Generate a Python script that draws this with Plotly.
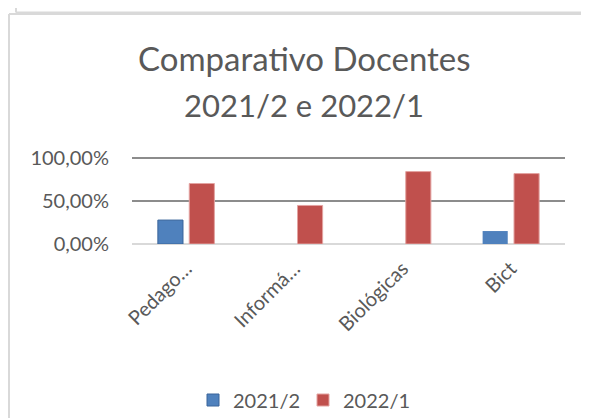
import plotly.graph_objects as go

categories = ["Pedago…", "Informá…", "Biológicas", "Bict"]
series_names = ["2021/2", "2022/1"]
values_2021_2 = [0.277, 0.0, 0.0, 0.15]
values_2022_1 = [0.70, 0.446, 0.838, 0.815]
title_lines = ["Comparativo Docentes", "2021/2 e 2022/1"]

# the page body adds an 8px offset; positions below are in page pixels
OFF = 8
W, H = 589, 418
ML, MR, MT, MB = 124, 32, 147, 182
YMAX = 1.03
pw = W - ML - MR
ph = H - MT - MB


def px(x_page):
    return (x_page - OFF - ML) / pw


def py(y_page):
    return (H - MB - (y_page - OFF)) / ph


FONT = "Lato"
TXT = "#595959"

fig = go.Figure()
fig.add_trace(go.Bar(
    x=categories, y=values_2021_2, name=series_names[0],
    marker=dict(color="#4F81BD", line=dict(color="#3A659A", width=[1, 0, 0, 0])),
))
fig.add_trace(go.Bar(
    x=categories, y=values_2022_1, name=series_names[1],
    marker=dict(color="#C0504D", line=dict(color="#E3A3A1", width=1)),
))

border = dict(color="#D9D9D9", width=2)
shapes = [
    dict(type="line", xref="paper", yref="paper", x0=px(16), x1=px(16), y0=py(0), y1=py(12.5), line=border),
    dict(type="line", xref="paper", yref="paper", x0=px(16), x1=px(587), y0=py(12.5), y1=py(12.5), line=border),
    dict(type="line", xref="paper", yref="paper", x0=px(587), x1=px(587), y0=py(0), y1=py(12.5), line=border),
    dict(type="line", xref="paper", yref="paper", x0=px(9), x1=px(9), y0=py(14), y1=py(430), line=border),
    dict(type="line", xref="paper", yref="paper", x0=px(9), x1=px(600), y0=py(14), y1=py(14), line=border),
]

annotations = [
    dict(text=title_lines[0], x=px(304), y=py(58), xref="paper", yref="paper",
         showarrow=False, xanchor="center", yanchor="middle",
         font=dict(family=FONT, size=33, color=TXT)),
    dict(text=title_lines[1], x=px(304), y=py(105), xref="paper", yref="paper",
         showarrow=False, xanchor="center", yanchor="middle",
         font=dict(family=FONT, size=31, color=TXT)),
]

fig.update_layout(
    width=W, height=H, autosize=False,
    margin=dict(l=ML, r=MR, t=MT, b=MB, pad=0),
    paper_bgcolor="white", plot_bgcolor="white",
    separators=",.",
    barmode="group", bargap=0.42, bargroupgap=0.2,
    font=dict(family=FONT, color=TXT),
    showlegend=True,
    legend=dict(orientation="h", xref="container", yref="container",
                x=(193 - OFF) / W, y=1 - (400 - OFF) / H,
                xanchor="left", yanchor="middle",
                font=dict(family=FONT, size=20, color=TXT),
                itemwidth=30, entrywidth=65, entrywidthmode="pixels",
                traceorder="normal", bgcolor="rgba(0,0,0,0)"),
    shapes=shapes,
    annotations=annotations,
)
fig.update_yaxes(
    range=[0, YMAX], tickvals=[0, 0.5, 1], tickformat=".2%",
    showgrid=True, gridcolor="#8C8C8C", gridwidth=1.5,
    zeroline=True, zerolinecolor="#D9D9D9", zerolinewidth=2,
    showline=False, ticks="", ticklabelstandoff=22,
    tickfont=dict(family=FONT, size=20, color=TXT),
    automargin=False, fixedrange=True,
)
fig.update_xaxes(
    tickangle=-45, showgrid=False, showline=False, ticks="",
    tickfont=dict(family=FONT, size=20, color=TXT),
    ticklabelstandoff=8,
    automargin=False, fixedrange=True,
)

fig.write_html("out.html")
